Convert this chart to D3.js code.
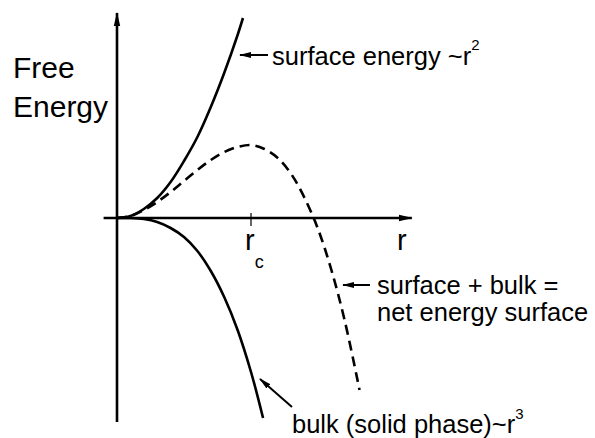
<!DOCTYPE html>
<html>
<head>
<meta charset="utf-8">
<script src="https://cdn.jsdelivr.net/npm/d3@7"></script>
<style>
  body { margin: 0; background: #fff; }
  svg { display: block; }
  text { font-family: "Liberation Sans", Arial, sans-serif; fill: #000; }
</style>
</head>
<body>
<div id="chart"></div>
<script>
// radius in units of r_c, energy in arbitrary units
const surfaceR = [0, 0.1, 0.2, 0.3, 0.4, 0.5, 0.6, 0.7, 0.8, 0.9, 0.94];
const surfaceE = [0, 0.02, 0.09, 0.2, 0.36, 0.57, 0.81, 1.11, 1.45, 1.83, 2.0];

const bulkR = [0, 0.1, 0.2, 0.3, 0.4, 0.5, 0.6, 0.7, 0.8, 0.9, 1.0, 1.09];
const bulkE = [0, 0, -0.01, -0.04, -0.1, -0.19, -0.33, -0.53, -0.79, -1.12, -1.54, -2.0];

const netR = [0, 0.1, 0.2, 0.3, 0.4, 0.5, 0.6, 0.7, 0.8, 0.9, 1.0, 1.1, 1.2, 1.3, 1.4, 1.5, 1.6, 1.7, 1.81];
const netE = [0, 0.02, 0.08, 0.16, 0.26, 0.37, 0.48, 0.58, 0.66, 0.71, 0.73, 0.69, 0.6, 0.44, 0.2, -0.11, -0.52, -1.03, -1.72];

const rcValue = 1;
const xLabel = 'r';
const yLabel = ['Free', 'Energy'];

function drawChart() {
    const width = 595, height = 438;

    const svg = d3.select('#chart').append('svg')
        .attr('width', width)
        .attr('height', height);

    const x = d3.scaleLinear().domain([0, 1]).range([117, 251]);
    const y = d3.scaleLinear().domain([0, 1]).range([218, 118]);

    const defs = svg.append('defs');
    defs.append('marker')
        .attr('id', 'axis-head')
        .attr('viewBox', '0 0 14 8')
        .attr('refX', 13).attr('refY', 4)
        .attr('markerWidth', 14).attr('markerHeight', 8)
        .attr('markerUnits', 'userSpaceOnUse')
        .attr('orient', 'auto')
        .append('path').attr('d', 'M0,0.8 L14,4 L0,7.2 Z').attr('fill', '#000');
    defs.append('marker')
        .attr('id', 'note-head')
        .attr('viewBox', '0 0 12 7')
        .attr('refX', 11).attr('refY', 3.5)
        .attr('markerWidth', 12).attr('markerHeight', 7)
        .attr('markerUnits', 'userSpaceOnUse')
        .attr('orient', 'auto')
        .append('path').attr('d', 'M0,0.6 L12,3.5 L0,6.4 Z').attr('fill', '#000');

    // axes
    svg.append('line')
        .attr('x1', x(0)).attr('y1', y(-2.04))
        .attr('x2', x(0)).attr('y2', y(2.05))
        .attr('stroke', '#000').attr('stroke-width', 2.6)
        .attr('marker-end', 'url(#axis-head)');
    svg.append('line')
        .attr('x1', x(-0.1)).attr('y1', y(0))
        .attr('x2', x(2.2)).attr('y2', y(0))
        .attr('stroke', '#000').attr('stroke-width', 2.6)
        .attr('marker-end', 'url(#axis-head)');

    // r_c tick
    svg.append('line')
        .attr('x1', x(rcValue)).attr('y1', y(0) - 5)
        .attr('x2', x(rcValue)).attr('y2', y(0) + 8)
        .attr('stroke', '#000').attr('stroke-width', 1.2);

    const line = d3.line()
        .x(d => x(d[0]))
        .y(d => y(d[1]))
        .curve(d3.curveCatmullRom);

    svg.append('path')
        .datum(d3.zip(surfaceR, surfaceE))
        .attr('d', line)
        .attr('fill', 'none').attr('stroke', '#000').attr('stroke-width', 2.6);

    svg.append('path')
        .datum(d3.zip(bulkR, bulkE))
        .attr('d', line)
        .attr('fill', 'none').attr('stroke', '#000').attr('stroke-width', 2.6);

    svg.append('path')
        .datum(d3.zip(netR, netE))
        .attr('d', line)
        .attr('fill', 'none').attr('stroke', '#000').attr('stroke-width', 2.6)
        .attr('stroke-dasharray', '10,6');

    // axis labels
    svg.append('text')
        .attr('x', 397).attr('y', 250)
        .attr('font-size', 29)
        .text(xLabel);

    const rc = svg.append('text')
        .attr('x', x(rcValue) - 6).attr('y', 250)
        .attr('font-size', 29);
    rc.append('tspan').text('r');
    rc.append('tspan').attr('font-size', 18).attr('dy', 18).text('c');

    svg.selectAll('.ylabel')
        .data(yLabel)
        .enter()
        .append('text')
        .attr('class', 'ylabel')
        .attr('x', 13)
        .attr('y', (d, i) => 78 + i * 39)
        .attr('font-size', 30)
        .text(d => d);

    // annotations
    const notes = [
        {from: [268, 55], to: [240, 55], tx: 272, ty: 65, lines: ['surface energy ~r'], sup: '2', supDy: -15},
        {from: [370, 285], to: [343, 285], tx: 377, ty: 294, lines: ['surface + bulk =', 'net energy surface']},
        {from: [292, 407], to: [260, 379], tx: 292, ty: 433, lines: ['bulk (solid phase)~r'], sup: '3', supDy: -14}
    ];

    notes.forEach(n => {
        svg.append('line')
            .attr('x1', n.from[0]).attr('y1', n.from[1])
            .attr('x2', n.to[0]).attr('y2', n.to[1])
            .attr('stroke', '#000').attr('stroke-width', 2)
            .attr('marker-end', 'url(#note-head)');
        n.lines.forEach((l, i) => {
            const t = svg.append('text')
                .attr('x', n.tx).attr('y', n.ty + i * 27)
                .attr('font-size', 25.5);
            t.append('tspan').text(l);
            if (n.sup && i === n.lines.length - 1) {
                t.append('tspan').attr('font-size', 15).attr('dy', n.supDy).text(n.sup);
            }
        });
    });
}

drawChart();
</script>
</body>
</html>
